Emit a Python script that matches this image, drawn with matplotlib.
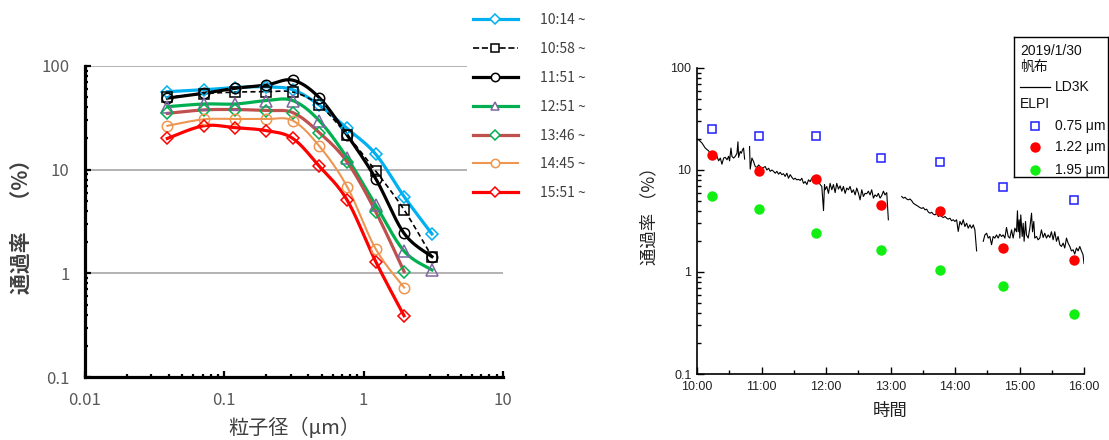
import numpy as np
import matplotlib
matplotlib.use('Agg')
import matplotlib.pyplot as plt
from matplotlib.ticker import LogLocator, FuncFormatter, NullFormatter, MultipleLocator
from matplotlib.lines import Line2D

plt.rcParams['font.family'] = ['Noto Sans CJK JP', 'DejaVu Sans']

# ---------------- data : left chart ----------------
particle_size_um = [0.039, 0.071, 0.12, 0.20, 0.31, 0.48, 0.76, 1.22, 1.95, 3.09]
run_labels = ['10:14', '10:58', '11:51', '12:51', '13:46', '14:45', '15:51']
pass_1014 = [56.5, 59, 62, 63, 59, 42, 25, 14.1, 5.5, 2.4]
pass_1058 = [50, 54, 56, 56.5, 56, 42, 21.6, 9.7, 4.1, 1.45]
pass_1151 = [49, 54.5, 61, 65.5, 73, 49.5, 21.6, 8.2, 2.43, 1.45]
pass_1251 = [40.5, 43, 43, 46.4, 46.4, 29.7, 13.0, 4.56, 1.64, 1.08]
pass_1346 = [34.9, 37.7, 38, 37.2, 35.5, 22.8, 11.9, 3.94, 1.04]
pass_1445 = [26.5, 30.6, 30.8, 30.8, 29.7, 16.9, 6.86, 1.72, 0.73]
pass_1551 = [20, 26.5, 25.4, 23.8, 20, 10.8, 5.1, 1.3, 0.39]
series = [pass_1014, pass_1058, pass_1151, pass_1251, pass_1346, pass_1445, pass_1551]

# ---------------- data : right chart ----------------
elpi_labels = ['0.75 μm', '1.22 μm', '1.95 μm']
elpi_size_index = [6, 7, 8]          # columns of the size distribution used
legend_date = '2019/1/30'
legend_material = '帆布'

# LD3K trace: minutes after 10:00 and pass rate (%), four recorded segments
ld3k_t1 = [0, 1.5, 4.6, 7.7, 10.8, 13.3, 17.0, 18.6, 20.1, 21.7, 23.2, 24.8, 26.3, 27.9,
           29.4, 30.3, 31.6, 32.5, 34.1, 35.6, 37.2, 38.1, 38.7, 40.2, 41.2, 42.4, 43.3, 44.3]
ld3k_v1 = [20.2, 19.8, 18.4, 16.4, 15.4, 14.1, 13.1, 13.6, 12.3, 13.1, 11.4, 13.1, 13.3, 12.6,
           13.6, 12.3, 16.4, 13.6, 13.1, 13.6, 14.6, 18.9, 13.3, 15.2, 14.6, 15.8, 16.4, 12.8]
ld3k_t2 = [48.9, 49.5, 51.1, 52.6, 54.2, 55.7, 57.3, 58.8, 60.4, 61.9, 63.5, 65.0, 66.6, 68.1,
           69.7, 71.2, 72.8, 74.3, 75.9, 77.4, 78.9, 80.5, 82.0, 83.6, 85.1, 86.7, 88.2, 89.8,
           91.3, 92.9, 94.4, 96.0, 97.5, 99.1, 100.6, 102.2, 103.7, 105.3, 106.8, 108.4, 111.5,
           113.0, 114.6, 116.1, 117.7, 118.6, 119.2, 120.7, 122.3, 123.8, 125.4, 126.9, 128.5,
           130.0, 131.6, 133.1, 134.7, 136.2, 137.8, 139.3, 140.9, 142.4, 144.0, 145.5, 147.1,
           148.6, 150.2, 151.7, 153.3, 154.8, 156.3, 157.9, 159.4, 161.0, 162.5, 164.1, 165.6,
           167.2, 168.7, 170.3, 171.8, 173.4, 174.9, 176.5, 178.0]
ld3k_v2 = [17.0, 10.2, 13.1, 12.1, 10.8, 10.6, 11.2, 10.8, 10.4, 10.6, 10.8, 10.0, 10.4, 9.7,
           10.0, 9.7, 9.3, 9.7, 9.1, 9.5, 9.0, 9.2, 8.65, 9.3, 8.3, 9.0, 8.5, 8.1,
           8.3, 8.0, 8.1, 7.9, 8.3, 7.4, 7.7, 7.2, 8.0, 7.7, 8.3, 8.65, 8.0,
           7.7, 7.2, 6.9, 4.0, 7.2, 6.4, 6.9, 5.9, 7.4, 6.4, 7.2, 6.0,
           7.4, 6.5, 7.0, 6.2, 6.9, 5.9, 6.65, 6.4, 6.9, 6.0, 6.4, 5.7,
           6.65, 5.9, 5.1, 6.4, 5.5, 5.9, 5.85, 6.2, 5.7, 6.4, 5.3, 5.7,
           5.5, 5.9, 5.3, 5.6, 6.2, 5.7, 6.0, 3.25]
ld3k_t3 = [190.4, 192.0, 193.5, 195.0, 196.6, 198.1, 199.7, 201.2, 202.8, 204.3, 205.9, 207.4,
           209.0, 210.5, 212.1, 213.6, 215.2, 216.7, 218.3, 219.8, 221.4, 222.9, 224.5, 226.0,
           227.6, 229.1, 230.7, 232.2, 233.7, 235.3, 236.8, 238.4, 239.9, 241.5, 243.0, 244.6,
           246.1, 247.7, 249.2, 250.8, 252.3, 253.9, 255.4, 257.0, 258.5, 260.1]
ld3k_v3 = [5.5, 5.3, 5.4, 5.2, 5.1, 5.2, 5.0, 4.73, 4.6, 4.5, 4.39, 4.28,
           4.2, 4.28, 4.07, 4.13, 3.87, 3.77, 3.85, 3.69, 3.63, 3.77, 3.50, 3.63,
           3.50, 3.42, 3.50, 3.37, 3.30, 3.37, 3.18, 3.25, 3.13, 3.25, 2.5, 3.13,
           2.9, 3.25, 2.79, 3.01, 2.69, 2.9, 2.69, 2.9, 2.59, 1.61]
ld3k_t4 = [266.3, 267.8, 269.4, 270.9, 272.4, 274.0, 275.5, 277.1, 278.6, 280.2, 281.7, 283.3,
           284.8, 286.4, 287.9, 289.5, 291.0, 292.6, 294.1, 295.7, 297.2, 298.1, 298.8, 299.7,
           300.3, 301.2, 302.5, 303.4, 304.3, 305.6, 306.5, 308.1, 309.6, 311.2, 312.1, 313.3,
           314.2, 315.8, 317.3, 318.9, 320.4, 322.0, 323.5, 325.1, 326.6, 328.2, 329.7, 331.3,
           332.8, 334.4, 335.9, 337.5, 339.0, 340.6, 342.1, 343.7, 345.2, 346.8, 348.3, 349.9,
           351.4, 353.0, 354.5, 356.1, 357.6, 359.1, 360.0]
ld3k_v4 = [2.0, 2.31, 2.40, 2.15, 2.23, 1.85, 2.23, 2.15, 2.31, 2.15, 2.35, 2.23,
           2.31, 2.15, 2.73, 2.23, 2.15, 2.59, 2.15, 2.69, 2.48, 3.98, 2.48, 3.25,
           2.15, 3.63, 2.23, 3.01, 2.0, 3.13, 2.31, 2.15, 2.69, 3.77, 2.48, 3.13,
           2.15, 2.23, 2.07, 2.15, 2.59, 2.18, 2.40, 2.15, 2.31, 2.18, 2.48, 2.07,
           2.48, 2.0, 2.23, 1.85, 1.78, 1.92, 1.72, 2.15, 1.92, 1.78, 1.61, 1.65,
           1.50, 1.72, 1.61, 1.78, 1.61, 1.48, 1.21]
ld3k_segments = [(ld3k_t1, ld3k_v1), (ld3k_t2, ld3k_v2), (ld3k_t3, ld3k_v3), (ld3k_t4, ld3k_v4)]

# ---------------- styles ----------------
styles = [
    dict(color='#00B0F0', lw=2.3, ls='-',  marker='D', mec='#00B0F0', ms=6.5),
    dict(color='black',   lw=1.2, ls='--', marker='s', mec='black',   ms=7.0),
    dict(color='black',   lw=2.3, ls='-',  marker='o', mec='black',   ms=7.5),
    dict(color='#00B050', lw=2.3, ls='-',  marker='^', mec='#8064A2', ms=8.0),
    dict(color='#C0504D', lw=2.3, ls='-',  marker='D', mec='#00B050', ms=6.5),
    dict(color='#EE9550', lw=1.5, ls='-',  marker='o', mec='#EE9550', ms=7.5),
    dict(color='#FF0000', lw=2.3, ls='-',  marker='D', mec='#FF0000', ms=6.5),
]
elpi_styles = [
    dict(marker='s', mfc='none', mec='#1E1EFF', ms=5.8, mew=1.1),
    dict(marker='o', mfc='#FF0000', mec='#FF0000', ms=7.5, mew=0),
    dict(marker='o', mfc='#11EE11', mec='#11EE11', ms=7.5, mew=0),
]


def smooth_loglog(xs, ys, n=24):
    """Excel-like smoothed line (Catmull-Rom Bezier) in log-log display space."""
    P = np.column_stack([np.log10(xs), np.log10(ys)])
    P = np.vstack([P[0], P, P[-1]])
    out = []
    t = np.linspace(0, 1, n, endpoint=False)[:, None]
    for i in range(1, len(P) - 2):
        p0, p1, p2, p3 = P[i - 1], P[i], P[i + 1], P[i + 2]
        c1 = p1 + (p2 - p0) / 6.0
        c2 = p2 - (p3 - p1) / 6.0
        out.append((1 - t) ** 3 * p1 + 3 * (1 - t) ** 2 * t * c1 + 3 * (1 - t) * t ** 2 * c2 + t ** 3 * p2)
    out.append(P[-2][None, :])
    arr = np.vstack(out)
    return 10 ** arr[:, 0], 10 ** arr[:, 1]


W, H = 1109, 440
fig = plt.figure(figsize=(W / 100, H / 100), dpi=100)

# ================= left chart =================
ax1 = fig.add_axes([85 / W, 1 - 377 / H, 418 / W, 311 / H])
ax1.set_xscale('log')
ax1.set_yscale('log')
ax1.set_xlim(0.01, 10)
ax1.set_ylim(0.1, 100)

for yv in [1, 10, 100]:
    ax1.axhline(yv, color='#A6A6A6', lw=1.2, zorder=1)

handles = []
for vals, st, lab in zip(series, styles, run_labels):
    xs = particle_size_um[:len(vals)]
    sx, sy = smooth_loglog(xs, vals)
    ax1.plot(sx, sy, color=st['color'], lw=st['lw'], ls=st['ls'], zorder=3,
             dashes=(3, 2) if st['ls'] == '--' else (None, None))
    ax1.plot(xs, vals, ls='none', marker=st['marker'], mfc='none', mec=st['mec'],
             ms=st['ms'], mew=1.1, zorder=4)
    handles.append(Line2D([], [], color=st['color'], lw=st['lw'], ls=st['ls'],
                          marker=st['marker'], mfc='white', mec=st['mec'],
                          ms=st['ms'] * 0.8, mew=1.1, label=lab + ' ~'))

for side in ['top', 'right']:
    ax1.spines[side].set_visible(False)
for side in ['left', 'bottom']:
    ax1.spines[side].set_linewidth(2.3)
    ax1.spines[side].set_color('black')

ax1.xaxis.set_major_locator(LogLocator(base=10, numticks=10))
ax1.xaxis.set_minor_locator(LogLocator(base=10, subs=np.arange(2, 10), numticks=10))
ax1.yaxis.set_major_locator(LogLocator(base=10, numticks=10))
ax1.yaxis.set_minor_locator(LogLocator(base=10, subs=np.arange(2, 10), numticks=10))
fmt = FuncFormatter(lambda v, p: '%g' % v)
ax1.xaxis.set_major_formatter(fmt)
ax1.yaxis.set_major_formatter(fmt)
ax1.xaxis.set_minor_formatter(NullFormatter())
ax1.yaxis.set_minor_formatter(NullFormatter())
ax1.tick_params(which='both', direction='in', width=1.6, color='black',
                labelsize=12, labelcolor='#595959', pad=11)
ax1.tick_params(which='major', length=4)
ax1.tick_params(which='minor', length=2.5)

ax1.set_ylabel('通過率　（%）', fontsize=15, fontweight='bold', color='#404040')
ax1.yaxis.set_label_coords(-0.127, 0.5)
ax1.set_xlabel('粒子径（μm）', fontsize=14.5, color='#404040')
ax1.xaxis.set_label_coords(0.5, -0.132)

leg1 = ax1.legend(handles=handles, loc='upper left',
                  bbox_to_anchor=(467 / W, 1 - 7.5 / H), bbox_transform=fig.transFigure,
                  frameon=True, fancybox=False, edgecolor='none', facecolor='white',
                  framealpha=1, borderaxespad=0, borderpad=0.4, fontsize=10,
                  handlelength=3.25, handletextpad=1.6, labelspacing=1.07,
                  labelcolor='#404040')
leg1.set_zorder(10)

# ================= right chart =================
ax2 = fig.add_axes([697 / W, 1 - 374 / H, 387 / W, 306 / H])
ax2.set_yscale('log')
ax2.set_xlim(0, 360)
ax2.set_ylim(0.1, 100)

for t, v in ld3k_segments:
    ax2.plot(t, v, color='black', lw=0.8, zorder=2)


def to_minutes(s):
    h, m = s.split(':')
    return (int(h) - 10) * 60 + int(m)


elpi_t = [to_minutes(s) for s in run_labels]
for idx, st in zip(elpi_size_index, elpi_styles):
    ax2.plot(elpi_t, [sv[idx] for sv in series], ls='none', zorder=3, **st)

for side in ['top', 'right']:
    ax2.spines[side].set_visible(False)
for side in ['left', 'bottom']:
    ax2.spines[side].set_linewidth(1.2)

ax2.xaxis.set_major_locator(MultipleLocator(60))
ax2.xaxis.set_minor_locator(MultipleLocator(30))
ax2.xaxis.set_major_formatter(FuncFormatter(lambda m, p: '%d:%02d' % (10 + int(m // 60), int(m % 60))))
ax2.yaxis.set_major_locator(LogLocator(base=10, numticks=10))
ax2.yaxis.set_minor_locator(LogLocator(base=10, subs=np.arange(2, 10), numticks=10))
ax2.yaxis.set_major_formatter(fmt)
ax2.yaxis.set_minor_formatter(NullFormatter())
rfont = ['Liberation Sans', 'Noto Sans CJK JP']
ax2.tick_params(which='both', direction='in', width=1.0, color='black',
                labelsize=9, labelcolor='#222222')
ax2.tick_params(axis='x', pad=5)
ax2.tick_params(axis='y', pad=4)
ax2.tick_params(which='major', length=5)
ax2.tick_params(which='minor', length=3)
for lab in ax2.get_xticklabels() + ax2.get_yticklabels():
    lab.set_family(rfont)

ax2.set_ylabel('通過率 （%）', fontsize=12.5, color='#222222')
ax2.yaxis.set_label_coords(-0.1, 0.53)
ax2.set_xlabel('時間', fontsize=12.5, color='#222222')
ax2.xaxis.set_label_coords(0.5, -0.09)

# custom legend box (right chart)
lx0, ly0, lw_, lh_ = 1014, 37, 94, 140
lax = fig.add_axes([lx0 / W, 1 - (ly0 + lh_) / H, lw_ / W, lh_ / H])
lax.set_xlim(0, lw_)
lax.set_ylim(lh_, 0)
lax.set_xticks([])
lax.set_yticks([])
for s in lax.spines.values():
    s.set_linewidth(1.0)
    s.set_color('black')
tkw = dict(fontsize=10, family=rfont, color='#111111', va='center', ha='left')
lax.text(6, 13.7, legend_date, **tkw)
lax.text(6, 30.3, legend_material, **tkw)
lax.plot([6, 36], [50.3, 50.3], color='black', lw=0.9)
lax.text(41, 50.3, 'LD3K', **tkw)
lax.text(6, 67, 'ELPI', **tkw)
for yy, lab, st in zip([89, 110.3, 133], elpi_labels, elpi_styles):
    lax.plot([21], [yy], ls='none', **st)
    lax.text(41, yy, lab, **tkw)

fig.savefig('out.png', dpi=100)
